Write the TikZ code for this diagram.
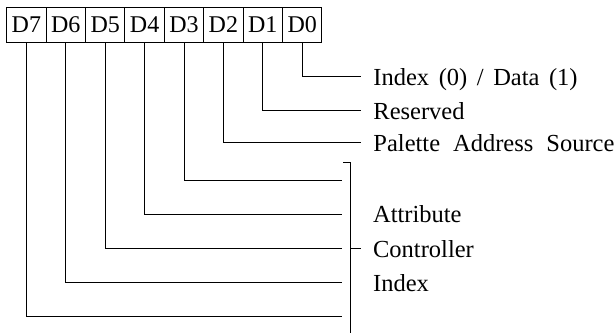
\documentclass[tikz,border=0pt]{standalone}
\usepackage{fontspec}
\setmainfont{Liberation Serif}
\newcommand{\lblfont}[1]{\fontsize{24.5}{28}\selectfont\spaceskip=#1\relax}
\begin{document}
\begin{tikzpicture}[x=1pt,y=-1pt,line width=0.9pt,
  cell/.style={draw,minimum width=39.4pt,minimum height=35.4pt,inner sep=0pt,outer sep=0pt,anchor=north west,font=\fontsize{24}{28}\selectfont},
  lbl/.style={anchor=base west,inner sep=0pt,font=\lblfont{#1}},
  lbl/.default=0.5em]
\useasboundingbox (0,0) rectangle (615,333);
\node[cell] (d7) at (6.7,7.3) {D7};
\node[cell] (d6) at (46.1,7.3) {D6};
\node[cell] (d5) at (85.5,7.3) {D5};
\node[cell] (d4) at (124.9,7.3) {D4};
\node[cell] (d3) at (164.3,7.3) {D3};
\node[cell] (d2) at (203.7,7.3) {D2};
\node[cell] (d1) at (243.1,7.3) {D1};
\node[cell] (d0) at (282.5,7.3) {D0};
% line ends
\coordinate (e0) at (361,76);
\coordinate (e1) at (361,110);
\coordinate (e2) at (361,142.5);
\coordinate (e3) at (341.7,180);
\coordinate (e4) at (341.7,214);
\coordinate (e5) at (341.7,248.7);
\coordinate (e6) at (341.7,282.7);
\coordinate (e7) at (341.7,316.7);
\draw (d0.south) |- (e0);
\draw (d1.south) |- (e1);
\draw (d2.south) |- (e2);
\draw (d3.south) |- (e3);
\draw (d4.south) |- (e4);
\draw (d5.south) |- (e5);
\draw (d6.south) |- (e6);
\draw (d7.south) |- (e7);
% bracket
\coordinate (bt) at (343,162.7);
\coordinate (bc) at (350.7,162.7);
\coordinate (bb) at (350.7,333);
\coordinate (bm) at (350.7,248.7);
\coordinate (bmt) at (360.7,248.7);
\draw (bt) -- (bc) -- (bb);
\draw (bm) -- (bmt);
% labels
\node[lbl=0.39em] (l0) at (373,85) {Index (0) / Data (1)};
\node[lbl] (l1) at (373,119) {Reserved};
\node[lbl=0.53em] (l2) at (373,151.5) {Palette Address Source};
\node[lbl] (l4) at (372.7,222.5) {Attribute};
\node[lbl] (l5) at (372.7,257) {Controller};
\node[lbl] (l6) at (372.7,291) {Index};
\end{tikzpicture}
\end{document}
